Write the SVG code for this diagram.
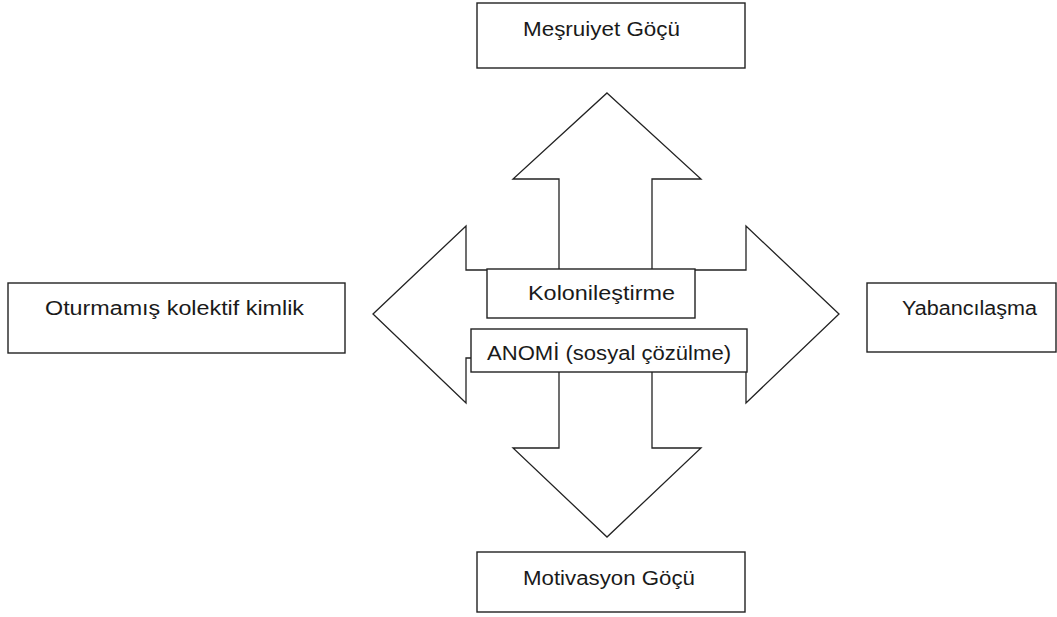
<svg xmlns="http://www.w3.org/2000/svg" width="1057" height="617" viewBox="0 0 1057 617">
<style>
.box{fill:#fff;stroke:#222;stroke-width:1.4}
.arr{fill:#fff;stroke:#222;stroke-width:1.3;stroke-linejoin:miter}
.t{font-family:"Liberation Sans",Arial,sans-serif;font-size:20px;fill:#1a1a1a}
</style>
<rect width="1057" height="617" fill="#fff"/>
<g id="connectors">
<path class="arr" d="M607,93 L701,179 L652,179 L652,448 L701,448 L607,537 L513,448 L559,448 L559,179 L513,179 Z"/>
<path class="arr" d="M373,314 L466,226 L466,270 L746,270 L746,226 L839,314 L746,403 L746,358 L466,358 L466,403 Z"/>
</g>
<g id="top">
<rect class="box" x="477" y="3" width="268" height="65"/>
<text class="t" x="523" y="36" textLength="157" lengthAdjust="spacingAndGlyphs">Meşruiyet Göçü</text>
</g>
<g id="left">
<rect class="box" x="8" y="283" width="337" height="70"/>
<text class="t" x="45" y="315" textLength="259" lengthAdjust="spacingAndGlyphs">Oturmamış kolektif kimlik</text>
</g>
<g id="right">
<rect class="box" x="867" y="283" width="189" height="69"/>
<text class="t" x="902" y="315" textLength="135" lengthAdjust="spacingAndGlyphs">Yabancılaşma</text>
</g>
<g id="kolon">
<rect class="box" x="487" y="269" width="208" height="49"/>
<text class="t" x="528" y="300" textLength="147" lengthAdjust="spacingAndGlyphs">Kolonileştirme</text>
</g>
<g id="anomi">
<rect class="box" x="471" y="329" width="276" height="43"/>
<text class="t" x="487" y="360" textLength="244" lengthAdjust="spacingAndGlyphs">ANOMİ (sosyal çözülme)</text>
</g>
<g id="bottom">
<rect class="box" x="477" y="552" width="268" height="60"/>
<text class="t" x="523" y="585" textLength="172" lengthAdjust="spacingAndGlyphs">Motivasyon Göçü</text>
</g>
</svg>
